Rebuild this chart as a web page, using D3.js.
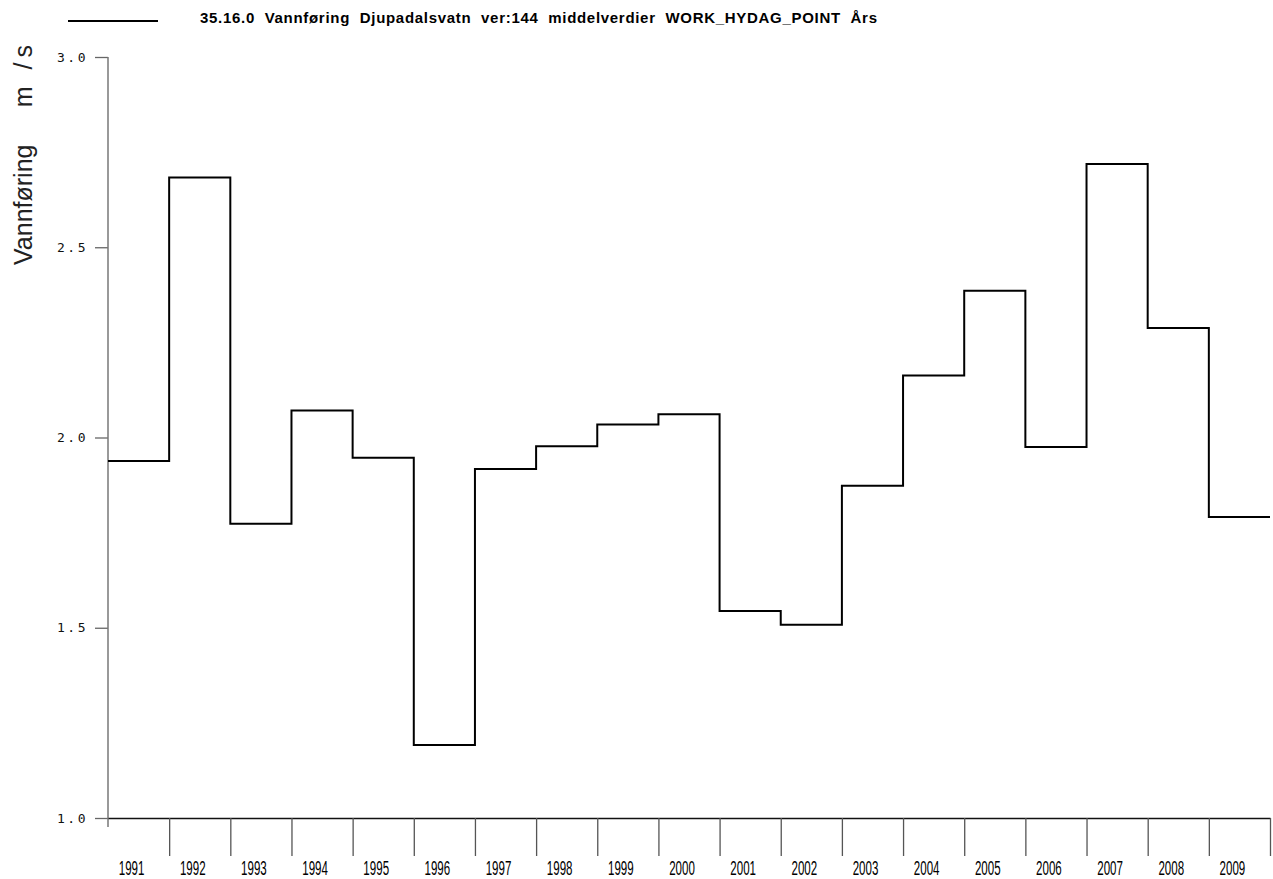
<!DOCTYPE html>
<html>
<head>
<meta charset="utf-8">
<script src="https://cdn.jsdelivr.net/npm/d3@7"></script>
<style>
  html, body { margin: 0; padding: 0; background: #fff; }
  svg { display: block; }
</style>
</head>
<body>
<svg id="chart" width="1273" height="879"></svg>
<script>
// Annual mean discharge, Djupadalsvatn (m³/s)
const years = [1991, 1992, 1993, 1994, 1995, 1996, 1997, 1998, 1999, 2000,
               2001, 2002, 2003, 2004, 2005, 2006, 2007, 2008, 2009];
const discharge = [1.938, 2.683, 1.773, 2.071, 1.947, 1.192, 1.917, 1.977, 2.034, 2.061,
                   1.544, 1.508, 1.873, 2.163, 2.386, 1.975, 2.719, 2.288, 1.791];
const yTicks = [1.0, 1.5, 2.0, 2.5, 3.0];
const titleText = "35.16.0  Vannføring  Djupadalsvatn  ver:144  middelverdier  WORK_HYDAG_POINT  Års";
const yLabelName = "Vannføring";
const yLabelUnit = "m /s";

const svg = d3.select("#chart");

const x = d3.scaleLinear().domain([1991, 2010]).range([108, 1270]);
const y = d3.scaleLinear().domain([1.0, 3.0]).range([818, 57]);

// Legend sample + title
svg.append("line")
  .attr("x1", 68).attr("x2", 158).attr("y1", 21).attr("y2", 21)
  .attr("stroke", "#000").attr("stroke-width", 2);
svg.append("text")
  .attr("x", 200).attr("y", 23)
  .attr("font-family", "Liberation Sans, Arial, sans-serif")
  .attr("font-weight", "bold").attr("font-size", 15)
  .attr("textLength", 677).attr("lengthAdjust", "spacing")
  .attr("xml:space", "preserve").style("white-space", "pre")
  .text(titleText);

// Y axis
const yAxis = svg.append("g")
  .attr("transform", `translate(${x(1991)},0)`)
  .call(d3.axisLeft(y).tickValues(yTicks).tickSize(13).tickPadding(7)
        .tickFormat(d3.format(".1f")));
yAxis.select(".domain").remove();
yAxis.selectAll(".tick line").attr("stroke", "#666").attr("stroke-width", 1.3);
yAxis.selectAll(".tick text")
  .attr("font-family", "DejaVu Sans Mono, monospace")
  .attr("font-size", 13).attr("letter-spacing", 2.5).attr("fill", "#111");
svg.append("line")
  .attr("x1", x(1991)).attr("x2", x(1991))
  .attr("y1", y(3.0)).attr("y2", y(1.0) + 9)
  .attr("stroke", "#777").attr("stroke-width", 1.5);

// X axis: ticks on year boundaries
const xAxis = svg.append("g")
  .attr("transform", `translate(0,${y(1.0)})`)
  .call(d3.axisBottom(x).tickValues(d3.range(1992, 2011)).tickSize(38)
        .tickSizeOuter(0).tickFormat(""));
xAxis.select(".domain").attr("stroke", "#111").attr("stroke-width", 1.5);
xAxis.selectAll(".tick line").attr("stroke", "#555").attr("stroke-width", 1.3);

// Year labels in each interval
svg.append("g").selectAll("text")
  .data(years).join("text")
  .attr("transform", d => `translate(${(x(d) + x(d + 1)) / 2 - 7},875) scale(0.55,1)`)
  .attr("text-anchor", "middle")
  .attr("font-family", "Liberation Sans, Arial, sans-serif")
  .attr("font-size", 21).attr("fill", "#000")
  .text(d => d);

// Y axis title: quantity and unit
const yTitle = svg.append("g")
  .attr("font-family", "Liberation Sans, Arial, sans-serif")
  .attr("font-size", 25).attr("fill", "#222");
yTitle.append("text")
  .attr("transform", "translate(32,265) rotate(-90)")
  .text(yLabelName);
yTitle.append("text")
  .attr("transform", "translate(32,40) rotate(-90)")
  .attr("text-anchor", "end")
  .attr("letter-spacing", 5)
  .attr("xml:space", "preserve").style("white-space", "pre")
  .text(yLabelUnit);

// Annual step series
const pts = years.map((yr, i) => [yr, discharge[i]]);
pts.push([2010, discharge[discharge.length - 1]]);
svg.append("path")
  .datum(pts)
  .attr("fill", "none").attr("stroke", "#000").attr("stroke-width", 2)
  .attr("d", d3.line().x(d => x(d[0])).y(d => y(d[1])).curve(d3.curveStepAfter));
</script>
</body>
</html>
